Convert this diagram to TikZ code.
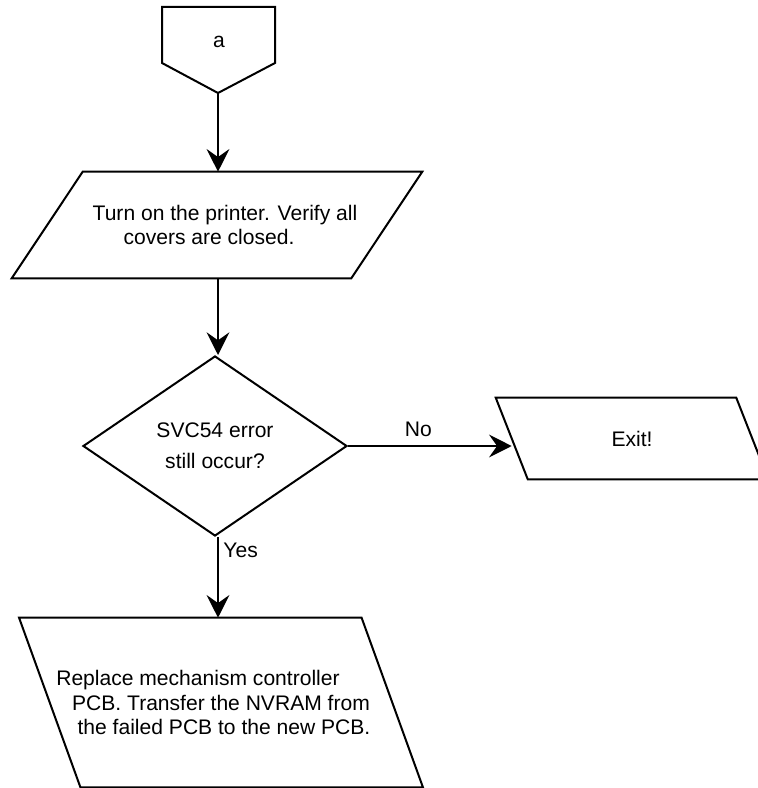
\documentclass[tikz,border=0pt]{standalone}
\usepackage{fontspec}
\setmainfont{Liberation Sans}
\usetikzlibrary{shapes.geometric,arrows.meta}
\tikzset{
  flow/.style={line width=1.5pt},
  arr/.style={flow,-{Stealth[length=17pt,width=17pt,inset=6pt]}},
  iobox/.style={rectangle,inner sep=0pt,align=center,
    font=\fontsize{15.8}{18.4}\selectfont},
  decision/.style={diamond,draw,flow,inner sep=0pt,align=center,
    font=\fontsize{15.8}{23}\selectfont},
  lbl/.style={font=\fontsize{15.8}{18.4}\selectfont}
}
\begin{document}
\begin{tikzpicture}[x=0.75pt,y=-0.75pt]
    \useasboundingbox (0,0) rectangle (757,788);
    % off-page connector
        \draw[flow] (162,7) -- (275,7) -- (275,63) -- (218,93) -- (162,63) -- cycle;
        \node[lbl] (a) at (219,42) {a};
        \coordinate (atip) at (218,93);
    % boxes
        \node[iobox,minimum width=254.25pt,minimum height=79.5pt] (turnon) at (217,225)
            {\hspace*{12pt}Turn on the printer. Verify all\\covers are closed.\hspace*{12pt}};
        \node[decision,minimum width=198pt,minimum height=135pt] (svc) at (215,446)
            {SVC54 error\\still occur?};
        \node[iobox,minimum width=180pt,minimum height=60.75pt] (exit) at (632,438.5) {Exit!};
        \node[iobox,minimum width=256.5pt,minimum height=126.75pt] (replace) at (221,702.5)
            {Replace mechanism controller\hspace*{34.5pt}\\PCB. Transfer the NVRAM from\hspace*{10.5pt}\\\hspace*{4.5pt}the failed PCB to the new PCB.};
    % slanted outlines
        \foreach \n/\s/\t in {turnon/26.6pt/-26.6pt,exit/-12pt/12pt,replace/-23pt/23pt}{
            \draw[flow] ([xshift=\s]\n.north west) -- ([xshift=\s]\n.north east)
                -- ([xshift=\t]\n.south east) -- ([xshift=\t]\n.south west) -- cycle;
        }
    % arrows
        \draw[arr] (atip) -- (atip |- turnon.north);
        \draw[arr] (atip |- turnon.south) -- (atip |- svc.north);
        \draw[arr] (svc.east) -- (svc.east -| exit.west)
            node[lbl,above,pos=0.43,inner sep=6pt] {No};
        \draw[arr] (atip |- svc.south) -- (atip |- replace.north)
            node[lbl,right,pos=0.16] {Yes};
\end{tikzpicture}
\end{document}
